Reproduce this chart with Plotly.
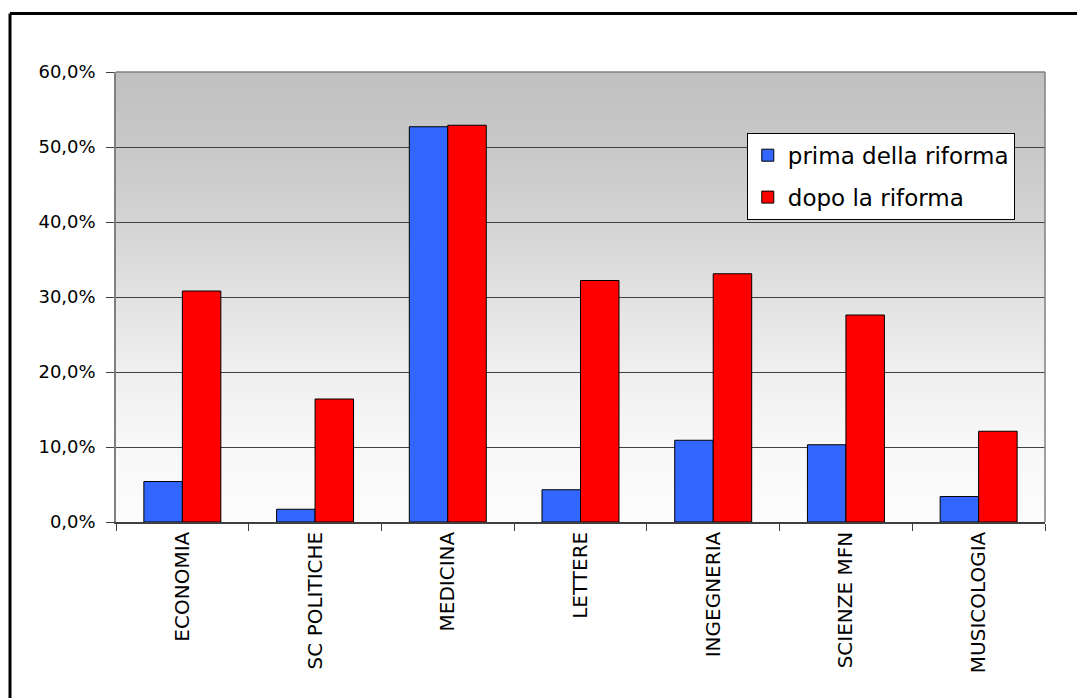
import plotly.graph_objects as go

categories = ["ECONOMIA", "SC POLITICHE", "MEDICINA", "LETTERE", "INGEGNERIA", "SCIENZE MFN", "MUSICOLOGIA"]
prima = [0.054, 0.017, 0.527, 0.043, 0.109, 0.103, 0.034]
dopo = [0.308, 0.164, 0.529, 0.322, 0.331, 0.276, 0.121]
series_names = ["prima della riforma", "dopo la riforma"]
y_ticks = [0, 0.1, 0.2, 0.3, 0.4, 0.5, 0.6]

FONT = "Comic Sans MS, DejaVu Sans, sans-serif"

fig = go.Figure()
fig.add_trace(go.Bar(x=categories, y=prima, name=series_names[0], legendgroup="a",
                     marker=dict(color="#3366FF", line=dict(color="black", width=1))))
fig.add_trace(go.Bar(x=categories, y=dopo, name=series_names[1], legendgroup="b",
                     marker=dict(color="#FF0000", line=dict(color="black", width=1))))

# gradient background of plot area (gray at top to white at bottom)
stops = [(0.0, 252), (1/6, 248), (2/6, 239), (3/6, 226), (4/6, 212), (5/6, 200), (1.0, 192)]
def shade(t):
    for (t0, c0), (t1, c1) in zip(stops[:-1], stops[1:]):
        if t0 <= t <= t1:
            return c0 + (c1 - c0) * (t - t0) / (t1 - t0)
    return stops[-1][1]

shapes = []
N = 90
for i in range(N):
    t0 = i / N
    t1 = (i + 1) / N
    c = int(round(shade((t0 + t1) / 2)))
    shapes.append(dict(type="rect", xref="paper", yref="paper", x0=0, x1=1, y0=t0, y1=t1,
                       fillcolor=f"rgb({c},{c},{c})", line=dict(width=0), layer="below"))
# plot-area border (right and top, gray)
shapes.append(dict(type="line", xref="paper", yref="paper", x0=1, x1=1, y0=0, y1=1,
                   line=dict(color="#808080", width=1.5), layer="above"))
shapes.append(dict(type="line", xref="paper", yref="paper", x0=0, x1=1, y0=1, y1=1,
                   line=dict(color="#808080", width=1.5), layer="above"))
# outer figure frame (left and top visible)
shapes.append(dict(type="line", xref="paper", yref="paper",
                   x0=-106/929, x1=-106/929, y0=1 + 58.5/450.2, y1=-1.0,
                   line=dict(color="black", width=3)))
shapes.append(dict(type="line", xref="paper", yref="paper",
                   x0=-106/929, x1=1.2, y0=1 + 58.5/450.2, y1=1 + 58.5/450.2,
                   line=dict(color="black", width=3)))

fig.update_layout(
    width=1077, height=698,
    margin=dict(l=116, r=32, t=72, b=176, pad=0),
    paper_bgcolor="white",
    plot_bgcolor="white",
    separators=",.",
    barmode="group",
    bargap=0.42,
    bargroupgap=0,
    font=dict(family=FONT, color="black"),
    shapes=shapes,
    showlegend=True,
    legend=dict(
        x=0.679, y=0.865, xanchor="left", yanchor="top",
        bgcolor="white", bordercolor="black", borderwidth=1,
        font=dict(family=FONT, size=23, color="black"),
        traceorder="grouped",
        tracegroupgap=9, itemwidth=30,
    ),
    xaxis=dict(
        type="category",
        tickson="boundaries",
        ticks="outside", ticklen=7, tickcolor="#404040",
        tickangle=-90,
        tickfont=dict(family=FONT, size=20, color="black"),
        showline=True, linecolor="#404040", linewidth=1.5,
        showgrid=False,
    ),
    yaxis=dict(
        range=[0, 0.6],
        tickvals=y_ticks,
        tickformat=".1%",
        ticks="outside", ticklen=8, tickcolor="#404040",
        tickfont=dict(family=FONT, size=18, color="black"),
        ticklabelstandoff=7,
        showline=True, linecolor="#808080", linewidth=1.5,
        showgrid=True, gridcolor="#404040", gridwidth=1,
        zeroline=False,
    ),
)

fig.write_html("out.html")
